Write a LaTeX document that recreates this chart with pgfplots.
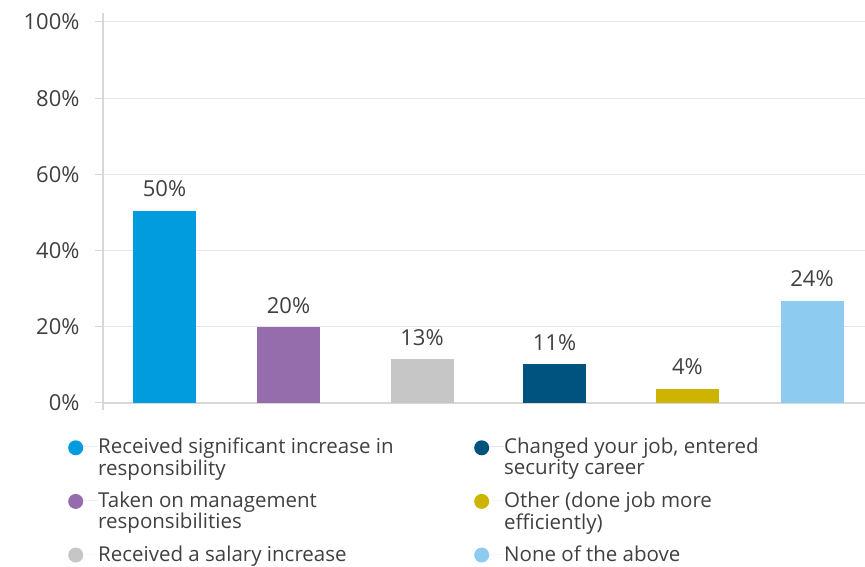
\documentclass[border=0pt]{standalone}
\usepackage{fontspec}
\setmainfont{Open Sans}
\usepackage{pgfplots}
\pgfplotsset{compat=1.18}

\definecolor{c1}{HTML}{009CDE}
\definecolor{c2}{HTML}{956CAC}
\definecolor{c3}{HTML}{C6C6C6}
\definecolor{c4}{HTML}{00527F}
\definecolor{c5}{HTML}{CCB400}
\definecolor{c6}{HTML}{8DCBF0}
\definecolor{txt}{HTML}{404040}
\definecolor{gridc}{HTML}{E6E6E6}
\definecolor{axisc}{HTML}{D8D8D8}

% legend entry: fixed width box, first line on the baseline
\newcommand{\lentry}[2][376pt]{\parbox[t]{#1}{\setlength{\baselineskip}{19.5pt}#2}}

\begin{document}
\begin{tikzpicture}
\useasboundingbox (-103pt,-164pt) rectangle (762pt,403pt);
\begin{axis}[
    at={(0,0)}, anchor=south west,
    scale only axis,
    width=762pt, height=381pt,
    xmin=103, xmax=865,
    ymin=0, ymax=100,
    ybar, bar width=63,
    xtick=\empty,
    ytick={0,20,...,100},
    yticklabel={\pgfmathprintnumber[assume math mode=true]{\tick}\%},
    yticklabel style={font=\fontsize{22}{24}\selectfont, text=txt, xshift=-12pt},
    axis x line*=bottom,
    axis y line*=left,
    x axis line style={draw=axisc, line width=1.5pt},
    y axis line style={draw=axisc, line width=2pt, shorten <=-7pt, shorten >=-9pt},
    ymajorgrids,
    grid style={draw=gridc, line width=1pt},
    tick align=outside,
    major tick length=8pt,
    ytick style={draw=axisc, line width=1pt},
    nodes near coords,
    point meta=explicit symbolic,
    nodes near coords style={anchor=base, yshift=14pt, text=txt,
        font=\fontsize{22}{24}\selectfont},
    cat/.style={fill=#1, draw=none, bar shift=0pt,
        legend image code/.code={\fill[#1] (7.5pt,-1pt) circle (7.5pt);
            \path (0pt,0pt) -- (30pt,0pt);}},
    legend columns=2,
    legend cell align=left,
    legend style={at={(axis cs:68,0)}, anchor=north west, yshift=-35pt,
        draw=none, fill=none, inner sep=0pt, row sep=36.5pt, column sep=0pt,
        nodes={inner sep=0pt, text=txt, font=\fontsize{20.5}{19.5}\selectfont}},
]
% plots ordered so the row-wise legend reads down each column
\addplot[cat=c1] coordinates {(164.5,50.4) [50\%]};
\addlegendentry{\lentry{Received significant increase in\\responsibility}}
\addplot[cat=c4] coordinates {(554.5,10.2) [11\%]};
\addlegendentry{\lentry[300pt]{Changed your job, entered\\security career}}
\addplot[cat=c2] coordinates {(288.5,19.9) [20\%]};
\addlegendentry{\lentry{Taken on management\\responsibilities}}
\addplot[cat=c5] coordinates {(687.5,3.7) [4\%]};
\addlegendentry{\lentry[300pt]{Other (done job more\\efficiently)}}
\addplot[cat=c3] coordinates {(422,11.5) [13\%]};
\addlegendentry{\lentry{Received a salary increase}}
\addplot[cat=c6] coordinates {(812,26.8) [24\%]};
\addlegendentry{\lentry[300pt]{None of the above}}
\end{axis}
\end{tikzpicture}
\end{document}
